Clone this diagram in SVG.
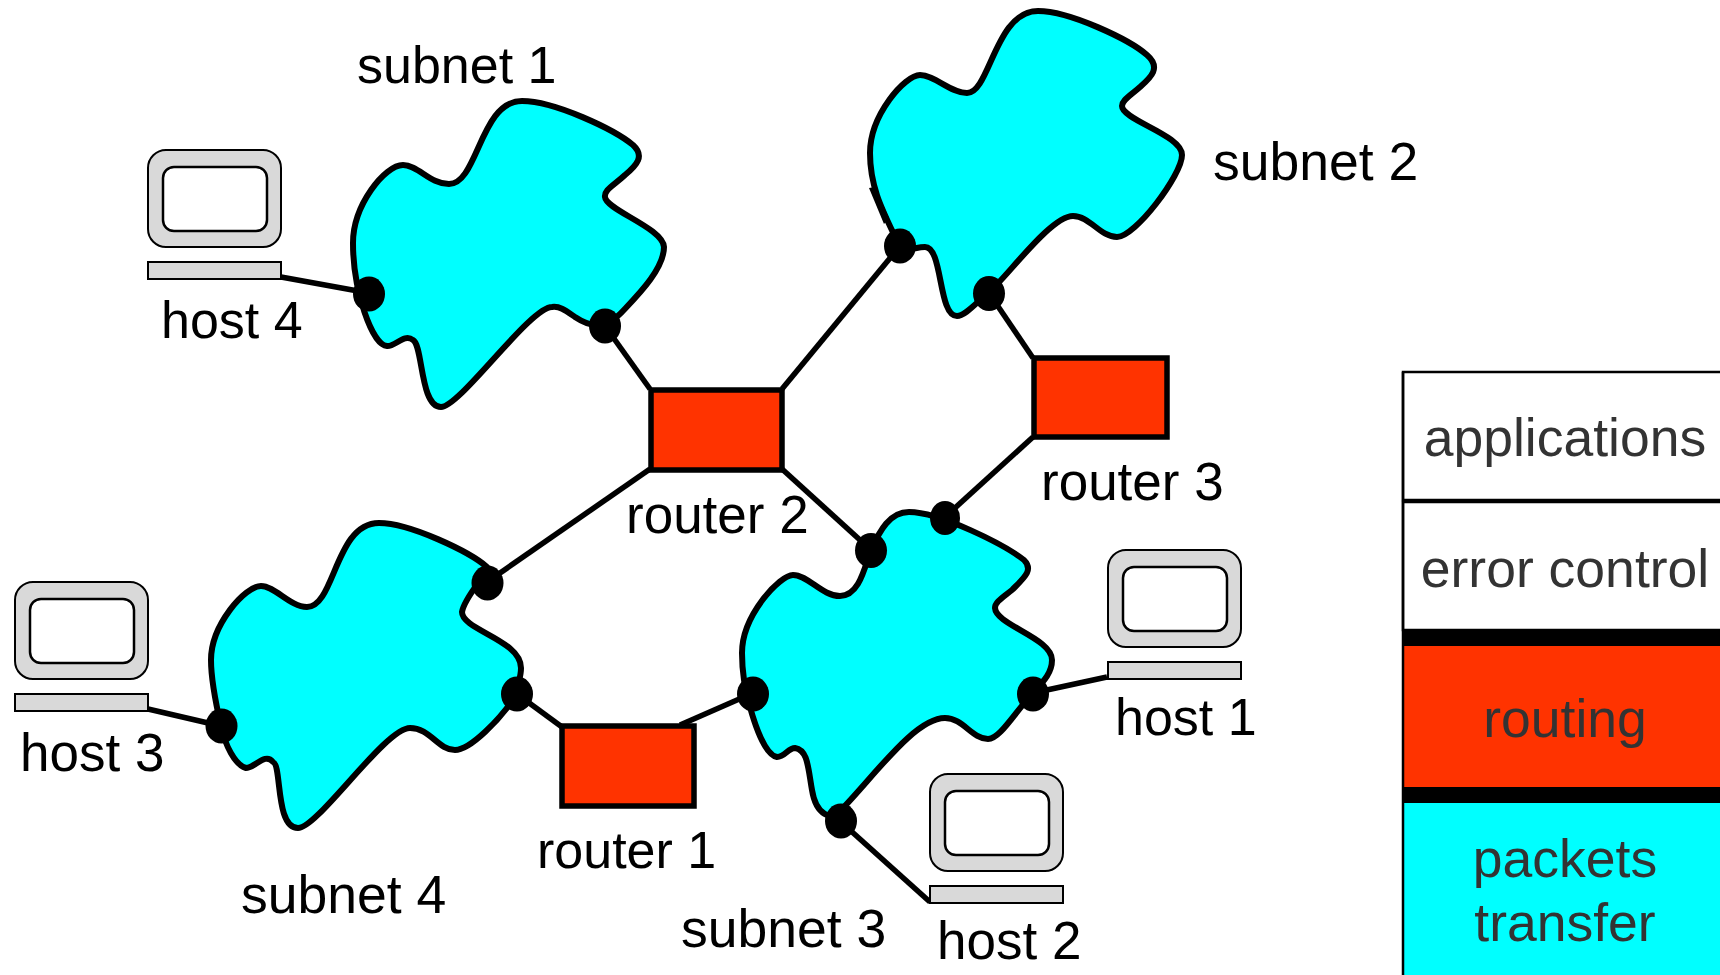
<svg xmlns="http://www.w3.org/2000/svg" xmlns:xlink="http://www.w3.org/1999/xlink" width="1720" height="975" viewBox="0 0 1720 975">
<style>
text{font-family:"Liberation Sans",Arial,sans-serif;font-size:53px;fill:#000}
.s{font-size:53.5px}
.n{font-size:52px}
.p{font-size:53.5px;fill:#333;text-anchor:middle}
.blob{fill:#00ffff;stroke:#000;stroke-width:6;stroke-linejoin:round}
.router{fill:#ff3300;stroke:#000;stroke-width:5.5}
.link{stroke:#000;stroke-width:5.5;fill:none}
.dot{fill:#000}
.pc{fill:#d9d9d9;stroke:#000;stroke-width:2}
.screen{fill:#fff;stroke:#000;stroke-width:2.5}
</style>
<defs>
<g id="pc">
<rect class="pc" x="0" y="0" width="133" height="97" rx="18" ry="18"/>
<rect class="screen" x="15" y="17" width="104" height="64" rx="11" ry="11"/>
<rect class="pc" x="0" y="112" width="133" height="17"/>
</g>
</defs>
<rect width="1720" height="975" fill="#fff"/>
<g id="connectors">
<line class="link" x1="281" y1="277" x2="369" y2="293"/>
<line class="link" x1="605" y1="326" x2="650" y2="389"/>
<line class="link" x1="782" y1="389" x2="900" y2="246"/>
<line class="link" x1="1033" y1="358" x2="989" y2="293"/>
<line class="link" x1="1033" y1="437" x2="945" y2="517"/>
<line class="link" x1="782" y1="469" x2="871" y2="550"/>
<line class="link" x1="650" y1="469" x2="487" y2="582"/>
<line class="link" x1="517" y1="694" x2="562" y2="727"/>
<line class="link" x1="680" y1="725" x2="753" y2="693"/>
<line class="link" x1="1033" y1="693" x2="1107" y2="677"/>
<line class="link" x1="841" y1="822" x2="930" y2="902"/>
<line class="link" x1="148" y1="709" x2="221" y2="726"/>
</g>
<g id="subnet1">
<path class="blob" d="M522 101C555 101 615 130 633 145C645 156 637 165 625 175C613 186 604 190 605 197C606 210 663 228 664 247C664 270 635 298 621 313C605 330 590 327 575 317C565 310 560 306 552 307C530 307 460 407 441 407C420 407 423 345 413 340C404 333 395 347 387 346C372 345 353 290 353 243C353 205 385 165 403 165C418 165 430 184 449 184C478 184 480 101 522 101Z"/>
<ellipse class="dot" cx="369" cy="294" rx="16" ry="17.5"/>
<ellipse class="dot" cx="605" cy="326" rx="16" ry="17.5"/>
<text class="n" x="357" y="83">subnet 1</text>
</g>
<g id="subnet2">
<path class="blob" d="M1038 11C1070 11 1130 40 1147 55C1162 68 1150 78 1140 87C1130 96 1122 100 1122 106C1122 120 1182 135 1182 155C1182 175 1135 237 1117 237C1100 237 1090 216 1073 216C1050 216 1005 280 988 293C975 304 965 316 957 316C938 316 943 247 925 247C915 247 908 252 900 247C885 215 870 190 870 153C870 115 905 75 920 75C935 75 950 93 967 93C990 93 995 11 1038 11Z"/>
<path d="M869 188L875 187L889 218L884 224Z" fill="#000"/>
<ellipse class="dot" cx="900" cy="246" rx="16" ry="17.5"/>
<ellipse class="dot" cx="989" cy="293.500" rx="16" ry="17.5"/>
<text class="s" x="1213" y="180">subnet 2</text>
</g>
<g id="subnet3">
<path class="blob" d="M909 512C940 512 1005 545 1024 560C1034 570 1024 578 1012 590C1002 598 995 602 995 608C996 625 1052 638 1052 660C1052 672 1045 680 1033 693C1015 712 1000 739 988 739C972 739 963 718 945 718C915 718 875 775 841 810C832 822 816 815 812 790C808 768 808 750 795 748C788 748 785 757 777 757C765 755 755 725 750 707C745 690 742 670 742 653C742 615 780 575 793 575C808 575 822 596 840 596C860 596 865 565 871 550C880 530 890 512 909 512Z"/>
<ellipse class="dot" cx="945" cy="518" rx="15" ry="17"/>
<ellipse class="dot" cx="871" cy="550.500" rx="16" ry="17.5"/>
<ellipse class="dot" cx="753" cy="694" rx="16" ry="17.5"/>
<ellipse class="dot" cx="1033" cy="694" rx="16" ry="17.5"/>
<ellipse class="dot" cx="841" cy="821" rx="16" ry="17.5"/>
<text class="s" x="681" y="947">subnet 3</text>
</g>
<g id="subnet4">
<path class="blob" d="M379 523C410 523 470 552 487 567C490 572 465 595 462 612C462 630 521 640 521 668C521 678 517 685 517 694C500 720 470 750 455 750C438 750 430 728 410 728C385 728 318 828 298 828C275 828 282 765 273 762C265 752 255 768 246 768C235 765 225 745 221 726C215 700 211 680 211 660C211 625 245 586 261 586C275 586 290 607 307 607C335 607 335 523 379 523Z"/>
<ellipse class="dot" cx="487.500" cy="583" rx="16" ry="17.5"/>
<ellipse class="dot" cx="517" cy="694" rx="16" ry="17.5"/>
<ellipse class="dot" cx="221.500" cy="726" rx="16" ry="17.5"/>
<text class="s" x="241" y="913">subnet 4</text>
</g>
<g id="router1"><rect class="router" x="562" y="726" width="132" height="80"/><text class="n" x="537" y="868">router 1</text></g>
<g id="router2"><rect class="router" x="651" y="390" width="131" height="80"/><text x="626" y="533">router 2</text></g>
<g id="router3"><rect class="router" x="1034" y="358" width="133" height="79"/><text x="1041" y="500">router 3</text></g>
<g id="host1"><use href="#pc" x="1108" y="550"/><text class="n" x="1115" y="735">host 1</text></g>
<g id="host2"><use href="#pc" x="930" y="774"/><text x="937" y="959">host 2</text></g>
<g id="host3"><use href="#pc" x="15" y="582"/><text x="20" y="771">host 3</text></g>
<g id="host4"><use href="#pc" x="148" y="150"/><text class="n" x="161" y="338">host 4</text></g>
<g id="stack">
<rect x="1403" y="372" width="330" height="128" fill="#fff" stroke="#000" stroke-width="2.5"/>
<rect x="1403" y="502" width="330" height="128" fill="#fff" stroke="#000" stroke-width="2.5"/>
<rect x="1403" y="645" width="330" height="142" fill="#ff3300"/>
<rect x="1403" y="803" width="330" height="180" fill="#00ffff"/>
<rect x="1402" y="630" width="330" height="16" fill="#000"/>
<rect x="1402" y="787" width="330" height="16" fill="#000"/>
<line x1="1403" y1="372" x2="1403" y2="975" stroke="#000" stroke-width="2.5"/>
<text class="p" x="1565" y="456">applications</text>
<text class="p" x="1565" y="587">error control</text>
<text class="p" x="1565" y="737">routing</text>
<text class="p" x="1565" y="877">packets</text>
<text class="p" x="1565" y="941">transfer</text>
</g>
</svg>
